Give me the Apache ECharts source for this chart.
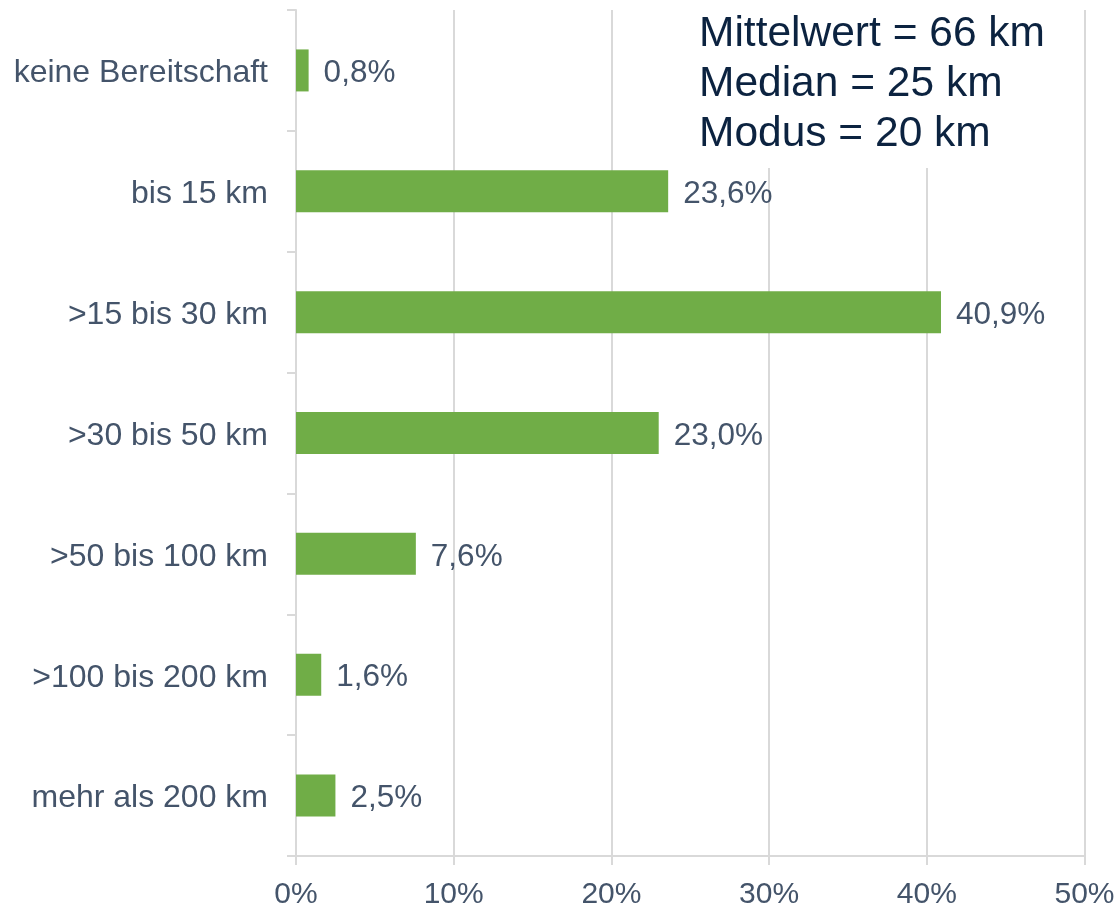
<!DOCTYPE html>
<html>
<head>
<meta charset="utf-8">
<script src="https://cdn.jsdelivr.net/npm/echarts@6/dist/echarts.min.js"></script>
<style>
html,body{margin:0;padding:0;background:#fff;}
#chart{width:1119px;height:910px;}
</style>
</head>
<body>
<div id="chart"></div>
<script>
var categories = ['keine Bereitschaft', 'bis 15 km', '>15 bis 30 km', '>30 bis 50 km', '>50 bis 100 km', '>100 bis 200 km', 'mehr als 200 km'];
var shares = [0.8, 23.6, 40.9, 23.0, 7.6, 1.6, 2.5];
var xTicks = [0, 10, 20, 30, 40, 50];
var statLines = ['Mittelwert = 66 km', 'Median = 25 km', 'Modus = 20 km'];

var font = '"Liberation Sans", Arial, sans-serif';
var labelColor = '#44546a';
var gridColor = '#d9d9d9';

var chart = echarts.init(document.getElementById('chart'));
chart.setOption({
  animation: false,
  backgroundColor: '#ffffff',
  grid: {left: 296, right: 34.5, top: 10, bottom: 52, containLabel: false},
  xAxis: {
    type: 'value',
    min: xTicks[0],
    max: xTicks[xTicks.length - 1],
    interval: xTicks[1] - xTicks[0],
    axisLine: {show: true, lineStyle: {color: gridColor, width: 2}},
    axisTick: {show: true, length: 9, lineStyle: {color: gridColor, width: 2}},
    splitLine: {show: true, lineStyle: {color: gridColor, width: 2}},
    axisLabel: {
      formatter: '{value}%', margin: 24,
      color: labelColor, fontSize: 30, fontFamily: font
    }
  },
  yAxis: {
    type: 'category',
    data: categories,
    inverse: true,
    axisLine: {show: true, lineStyle: {color: gridColor, width: 2}},
    axisTick: {show: true, length: 9, lineStyle: {color: gridColor, width: 2}},
    axisLabel: {
      margin: 28,
      formatter: function (v) { return '{a|' + v + '}'; },
      rich: {a: {color: labelColor, fontSize: 32, fontFamily: font, padding: [6, 0, 0, 0]}}
    }
  },
  series: [{
    type: 'bar',
    data: shares,
    barWidth: 42,
    itemStyle: {color: '#70ad47'},
    label: {
      show: true, position: 'right', distance: 15, offset: [0, 3],
      color: labelColor, fontSize: 31.5, fontFamily: font,
      formatter: function (p) { return p.value.toFixed(1).replace('.', ',') + '%'; }
    }
  }],
  graphic: [
    {type: 'rect', z: 100, shape: {x: 690, y: 0, width: 370, height: 168}, style: {fill: '#ffffff'}},
    {type: 'text', z: 101, x: 699, y: 9, style: {
      text: statLines.join('\n'), fill: '#0c2340',
      font: '42.5px ' + font, lineHeight: 50
    }}
  ]
});
</script>
</body>
</html>
